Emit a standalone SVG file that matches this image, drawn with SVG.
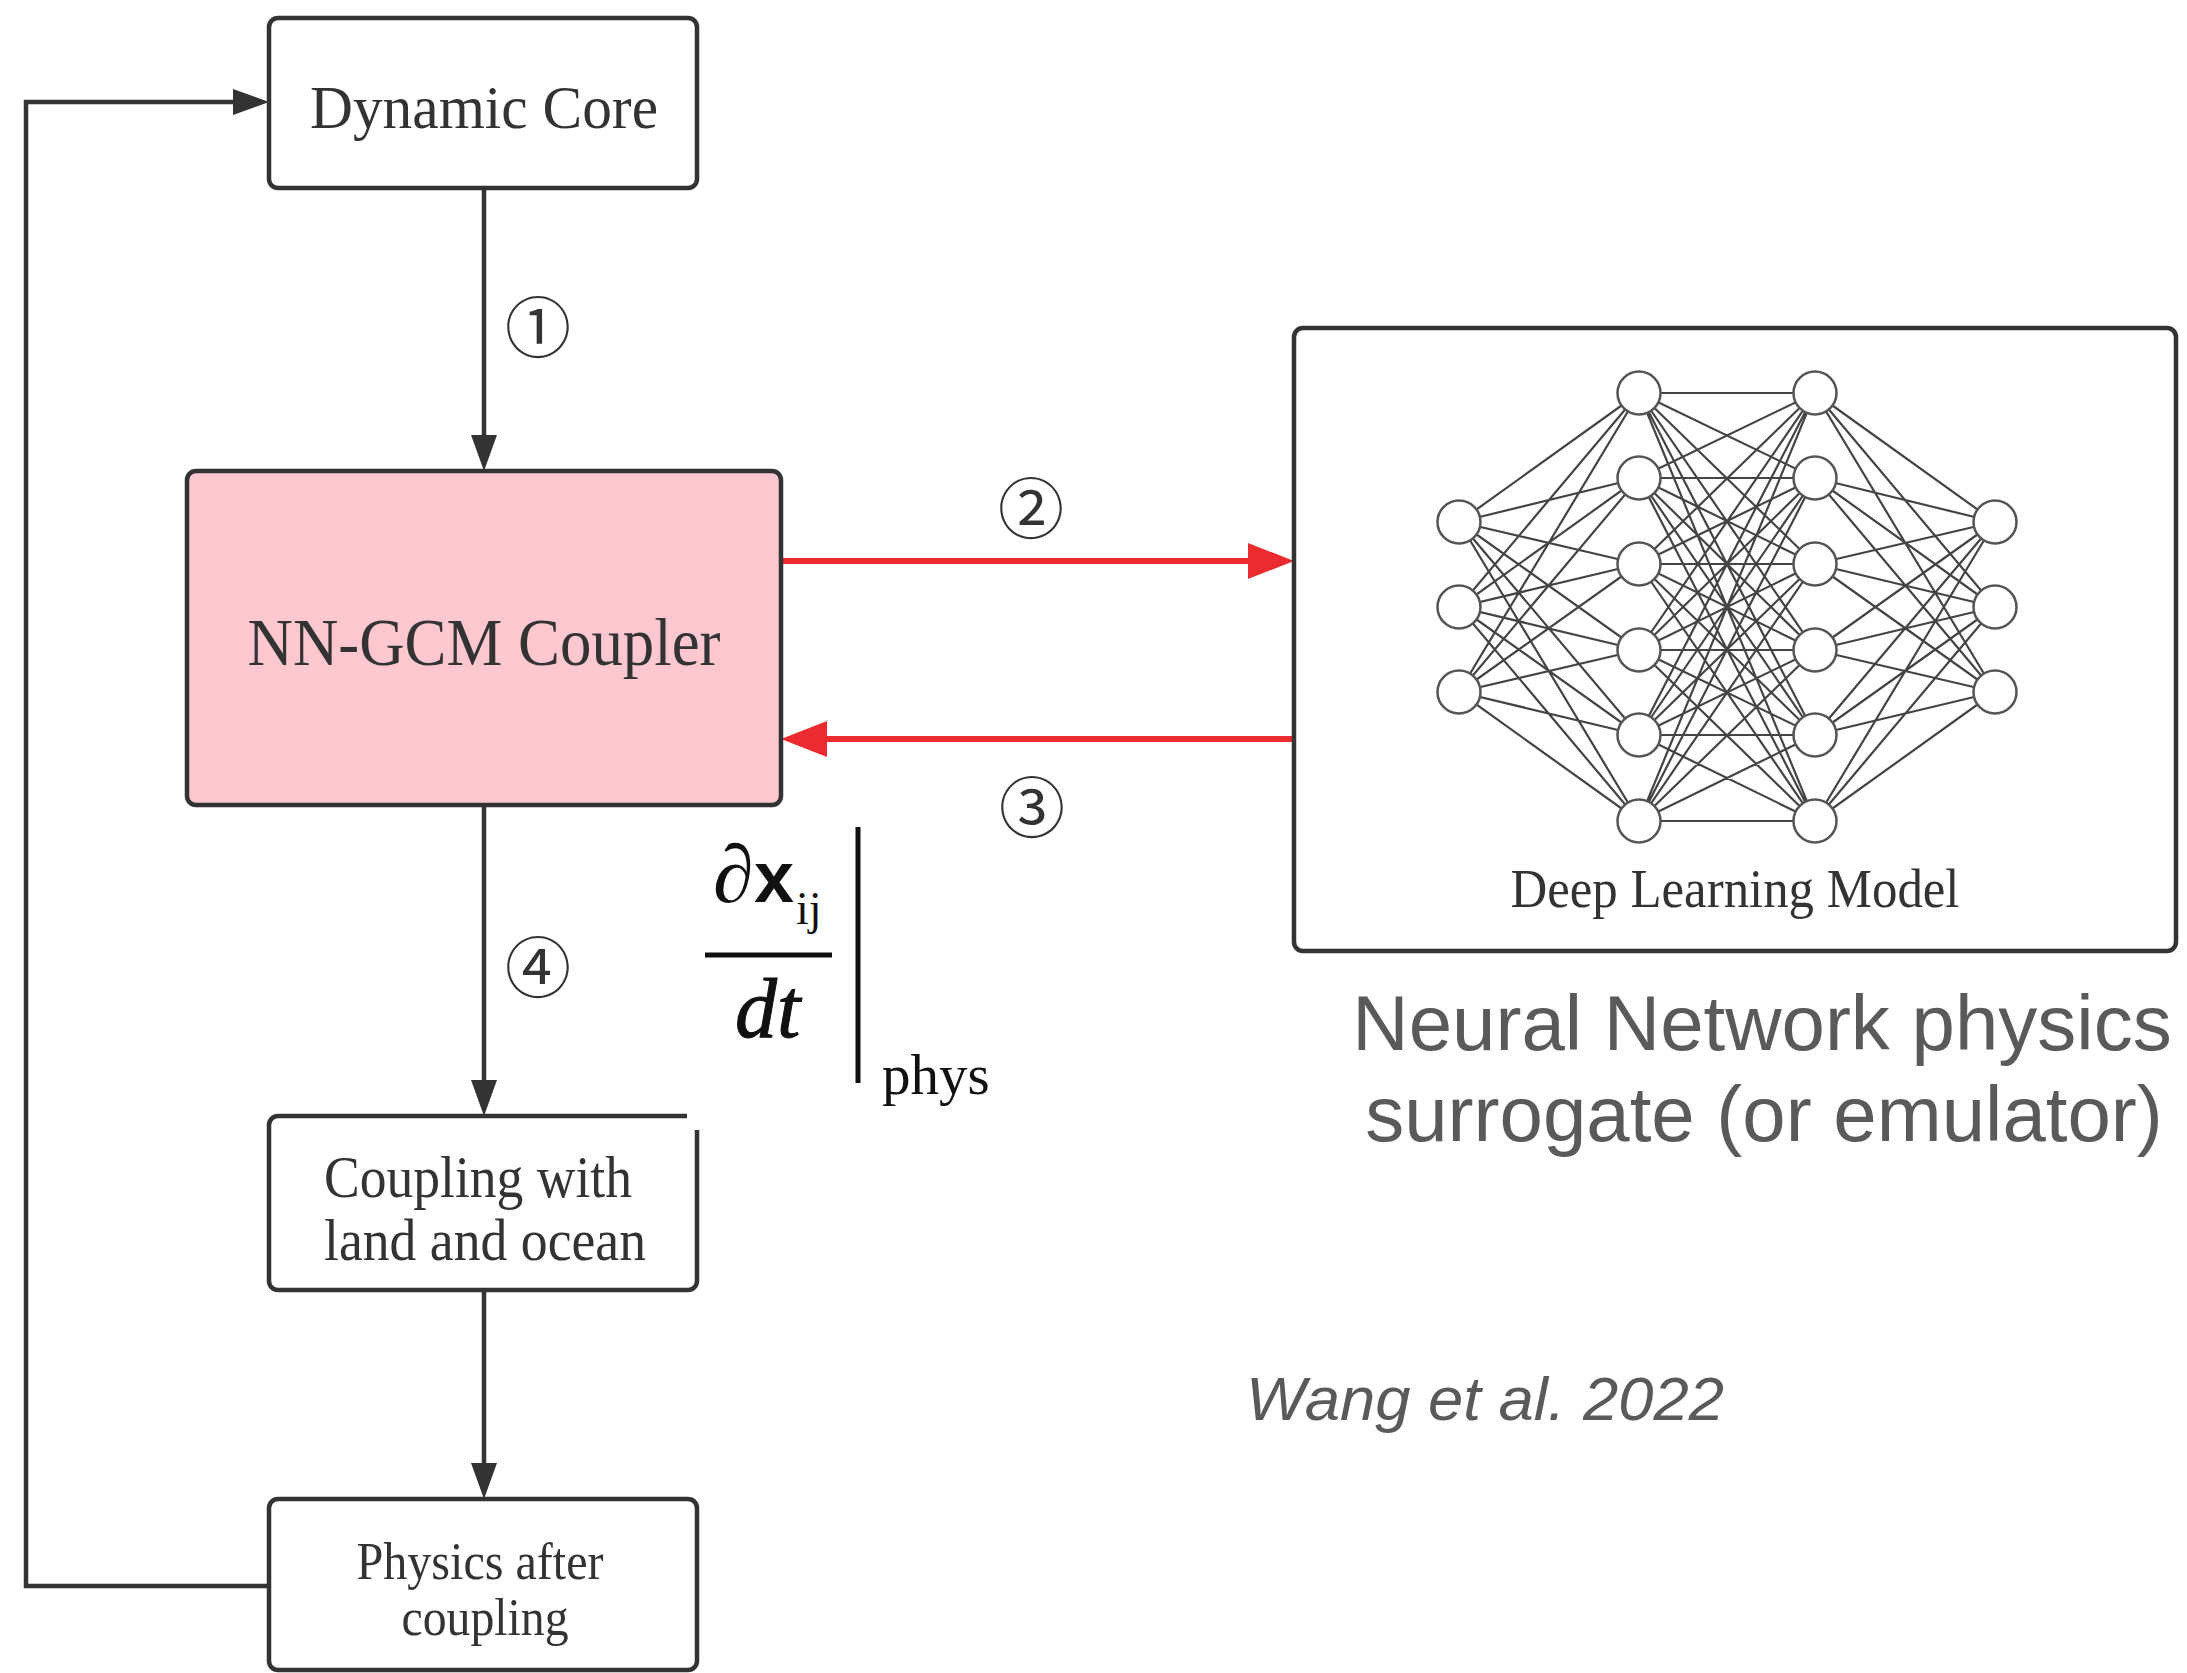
<svg xmlns="http://www.w3.org/2000/svg" width="2187" height="1673" viewBox="0 0 2187 1673">
  <style>
    .box { fill: #ffffff; stroke: #333333; stroke-width: 4.5; }
    .pink { fill: #ffc8d1; }
    .lbl { font-family: "Liberation Serif", "Times New Roman", serif; fill: #333333; text-anchor: middle; }
    .num { font-family: "Noto Sans CJK SC", "DejaVu Sans", sans-serif; font-size: 66px; fill: #333333; text-anchor: middle; }
    .wire { fill: none; stroke: #333333; stroke-width: 4.5; }
    .red { fill: none; stroke: #ec2b30; stroke-width: 6; }
    .syn { fill: none; stroke: #444444; stroke-width: 2.2; }
    .neuron { fill: #ffffff; stroke: #555555; stroke-width: 2.5; }
    .note { font-family: "Liberation Sans", Arial, sans-serif; fill: #5a5a5a; }
    .math { font-family: "Liberation Serif", "Times New Roman", serif; fill: #111111; }
  </style>
  <defs>
    <marker id="arrowDark" markerUnits="userSpaceOnUse" markerWidth="40" markerHeight="30" refX="26" refY="13" orient="auto">
      <path d="M0,0 L36,13 L0,26 Z" fill="#333333"/>
    </marker>
    <marker id="arrowRed" markerUnits="userSpaceOnUse" markerWidth="50" markerHeight="40" refX="36" refY="18" orient="auto">
      <path d="M0,0 L46,18 L0,36 Z" fill="#ec2b30"/>
    </marker>
  </defs>

  <rect width="2187" height="1673" fill="#ffffff"/>

  <!-- connectors -->
  <g id="connectors">
    <path class="wire" d="M269,1586 H26 V102 H259" marker-end="url(#arrowDark)"/>
    <path class="wire" d="M484,188 V461" marker-end="url(#arrowDark)"/>
    <path class="wire" d="M484,805 V1106" marker-end="url(#arrowDark)"/>
    <path class="wire" d="M484,1290 V1489" marker-end="url(#arrowDark)"/>
    <path class="red" d="M781,561 H1284" marker-end="url(#arrowRed)"/>
    <path class="red" d="M1294,739 H791" marker-end="url(#arrowRed)"/>
    <text class="num" x="538" y="352">①</text>
    <text class="num" x="1031" y="533">②</text>
    <text class="num" x="1032" y="832">③</text>
    <text class="num" x="538" y="992">④</text>
  </g>

  <!-- dynamic core -->
  <g id="dynamic-core">
    <rect class="box" x="269" y="18" width="428" height="170" rx="9"/>
    <text class="lbl" x="484" y="128" font-size="62" textLength="348" lengthAdjust="spacingAndGlyphs">Dynamic Core</text>
  </g>

  <!-- coupler -->
  <g id="coupler">
    <rect class="box pink" x="187" y="471" width="594" height="334" rx="9"/>
    <text class="lbl" x="484" y="665" font-size="68" textLength="473" lengthAdjust="spacingAndGlyphs">NN-GCM Coupler</text>
  </g>

  <!-- land / ocean coupling -->
  <g id="land-ocean">
    <rect class="box" x="269" y="1116" width="428" height="174" rx="9"/>
    <text class="lbl" x="478" y="1197" font-size="60" textLength="308" lengthAdjust="spacingAndGlyphs">Coupling with</text>
    <text class="lbl" x="485" y="1260" font-size="60" textLength="322" lengthAdjust="spacingAndGlyphs">land and ocean</text>
  </g>

  <!-- physics after coupling -->
  <g id="physics-after">
    <rect class="box" x="269" y="1499" width="428" height="171" rx="9"/>
    <text class="lbl" x="480" y="1579" font-size="52" textLength="247" lengthAdjust="spacingAndGlyphs">Physics after</text>
    <text class="lbl" x="485" y="1635" font-size="52" textLength="167" lengthAdjust="spacingAndGlyphs">coupling</text>
  </g>

  <!-- deep learning model -->
  <g id="deep-learning-model">
    <rect class="box" x="1294" y="328" width="882" height="623" rx="9"/>
    <path class="syn" d="M1459 522L1639 393M1459 522L1639 478M1459 522L1639 564M1459 522L1639 650M1459 522L1639 735M1459 522L1639 821
      M1459 607L1639 393M1459 607L1639 478M1459 607L1639 564M1459 607L1639 650M1459 607L1639 735M1459 607L1639 821
      M1459 692L1639 393M1459 692L1639 478M1459 692L1639 564M1459 692L1639 650M1459 692L1639 735M1459 692L1639 821"/>
    <path class="syn" d="M1639 393L1815 393M1639 393L1815 478M1639 393L1815 564M1639 393L1815 650M1639 393L1815 735M1639 393L1815 821
      M1639 478L1815 393M1639 478L1815 478M1639 478L1815 564M1639 478L1815 650M1639 478L1815 735M1639 478L1815 821
      M1639 564L1815 393M1639 564L1815 478M1639 564L1815 564M1639 564L1815 650M1639 564L1815 735M1639 564L1815 821
      M1639 650L1815 393M1639 650L1815 478M1639 650L1815 564M1639 650L1815 650M1639 650L1815 735M1639 650L1815 821
      M1639 735L1815 393M1639 735L1815 478M1639 735L1815 564M1639 735L1815 650M1639 735L1815 735M1639 735L1815 821
      M1639 821L1815 393M1639 821L1815 478M1639 821L1815 564M1639 821L1815 650M1639 821L1815 735M1639 821L1815 821"/>
    <path class="syn" d="M1815 393L1995 522M1815 478L1995 522M1815 564L1995 522M1815 650L1995 522M1815 735L1995 522M1815 821L1995 522
      M1815 393L1995 607M1815 478L1995 607M1815 564L1995 607M1815 650L1995 607M1815 735L1995 607M1815 821L1995 607
      M1815 393L1995 692M1815 478L1995 692M1815 564L1995 692M1815 650L1995 692M1815 735L1995 692M1815 821L1995 692"/>
    <circle class="neuron" cx="1459" cy="522" r="21.5"/>
    <circle class="neuron" cx="1459" cy="607" r="21.5"/>
    <circle class="neuron" cx="1459" cy="692" r="21.5"/>
    <circle class="neuron" cx="1639" cy="393" r="21.5"/>
    <circle class="neuron" cx="1639" cy="478" r="21.5"/>
    <circle class="neuron" cx="1639" cy="564" r="21.5"/>
    <circle class="neuron" cx="1639" cy="650" r="21.5"/>
    <circle class="neuron" cx="1639" cy="735" r="21.5"/>
    <circle class="neuron" cx="1639" cy="821" r="21.5"/>
    <circle class="neuron" cx="1815" cy="393" r="21.5"/>
    <circle class="neuron" cx="1815" cy="478" r="21.5"/>
    <circle class="neuron" cx="1815" cy="564" r="21.5"/>
    <circle class="neuron" cx="1815" cy="650" r="21.5"/>
    <circle class="neuron" cx="1815" cy="735" r="21.5"/>
    <circle class="neuron" cx="1815" cy="821" r="21.5"/>
    <circle class="neuron" cx="1995" cy="522" r="21.5"/>
    <circle class="neuron" cx="1995" cy="607" r="21.5"/>
    <circle class="neuron" cx="1995" cy="692" r="21.5"/>
    <text class="lbl" x="1735" y="907" font-size="54" textLength="449" lengthAdjust="spacingAndGlyphs">Deep Learning Model</text>
  </g>

  <!-- tendency expression with its white backing -->
  <g id="tendency">
    <rect x="687" y="1098" width="20" height="32" fill="#ffffff"/>
    <text class="math" x="713" y="902" font-size="82" font-style="italic">∂</text>
    <text x="754" y="902" font-family="Liberation Sans, Arial, sans-serif" font-size="72" font-weight="bold" fill="#111111">x</text>
    <text class="math" x="796" y="924" font-size="46">ij</text>
    <line x1="705" y1="955" x2="832" y2="955" stroke="#111111" stroke-width="5"/>
    <text class="math" x="735" y="1037" font-size="84" font-style="italic" stroke="#111111" stroke-width="1">dt</text>
    <line x1="858" y1="827" x2="858" y2="1083" stroke="#111111" stroke-width="5"/>
    <text class="math" x="882" y="1094" font-size="57">phys</text>
  </g>

  <!-- caption -->
  <g id="caption">
    <text class="note" x="1762" y="1050" font-size="78" text-anchor="middle">Neural Network physics</text>
    <text class="note" x="1764" y="1141" font-size="78" text-anchor="middle">surrogate (or emulator)</text>
    <text class="note" x="1246" y="1420" font-size="62" font-style="italic" textLength="478" lengthAdjust="spacingAndGlyphs">Wang et al. 2022</text>
  </g>
</svg>
